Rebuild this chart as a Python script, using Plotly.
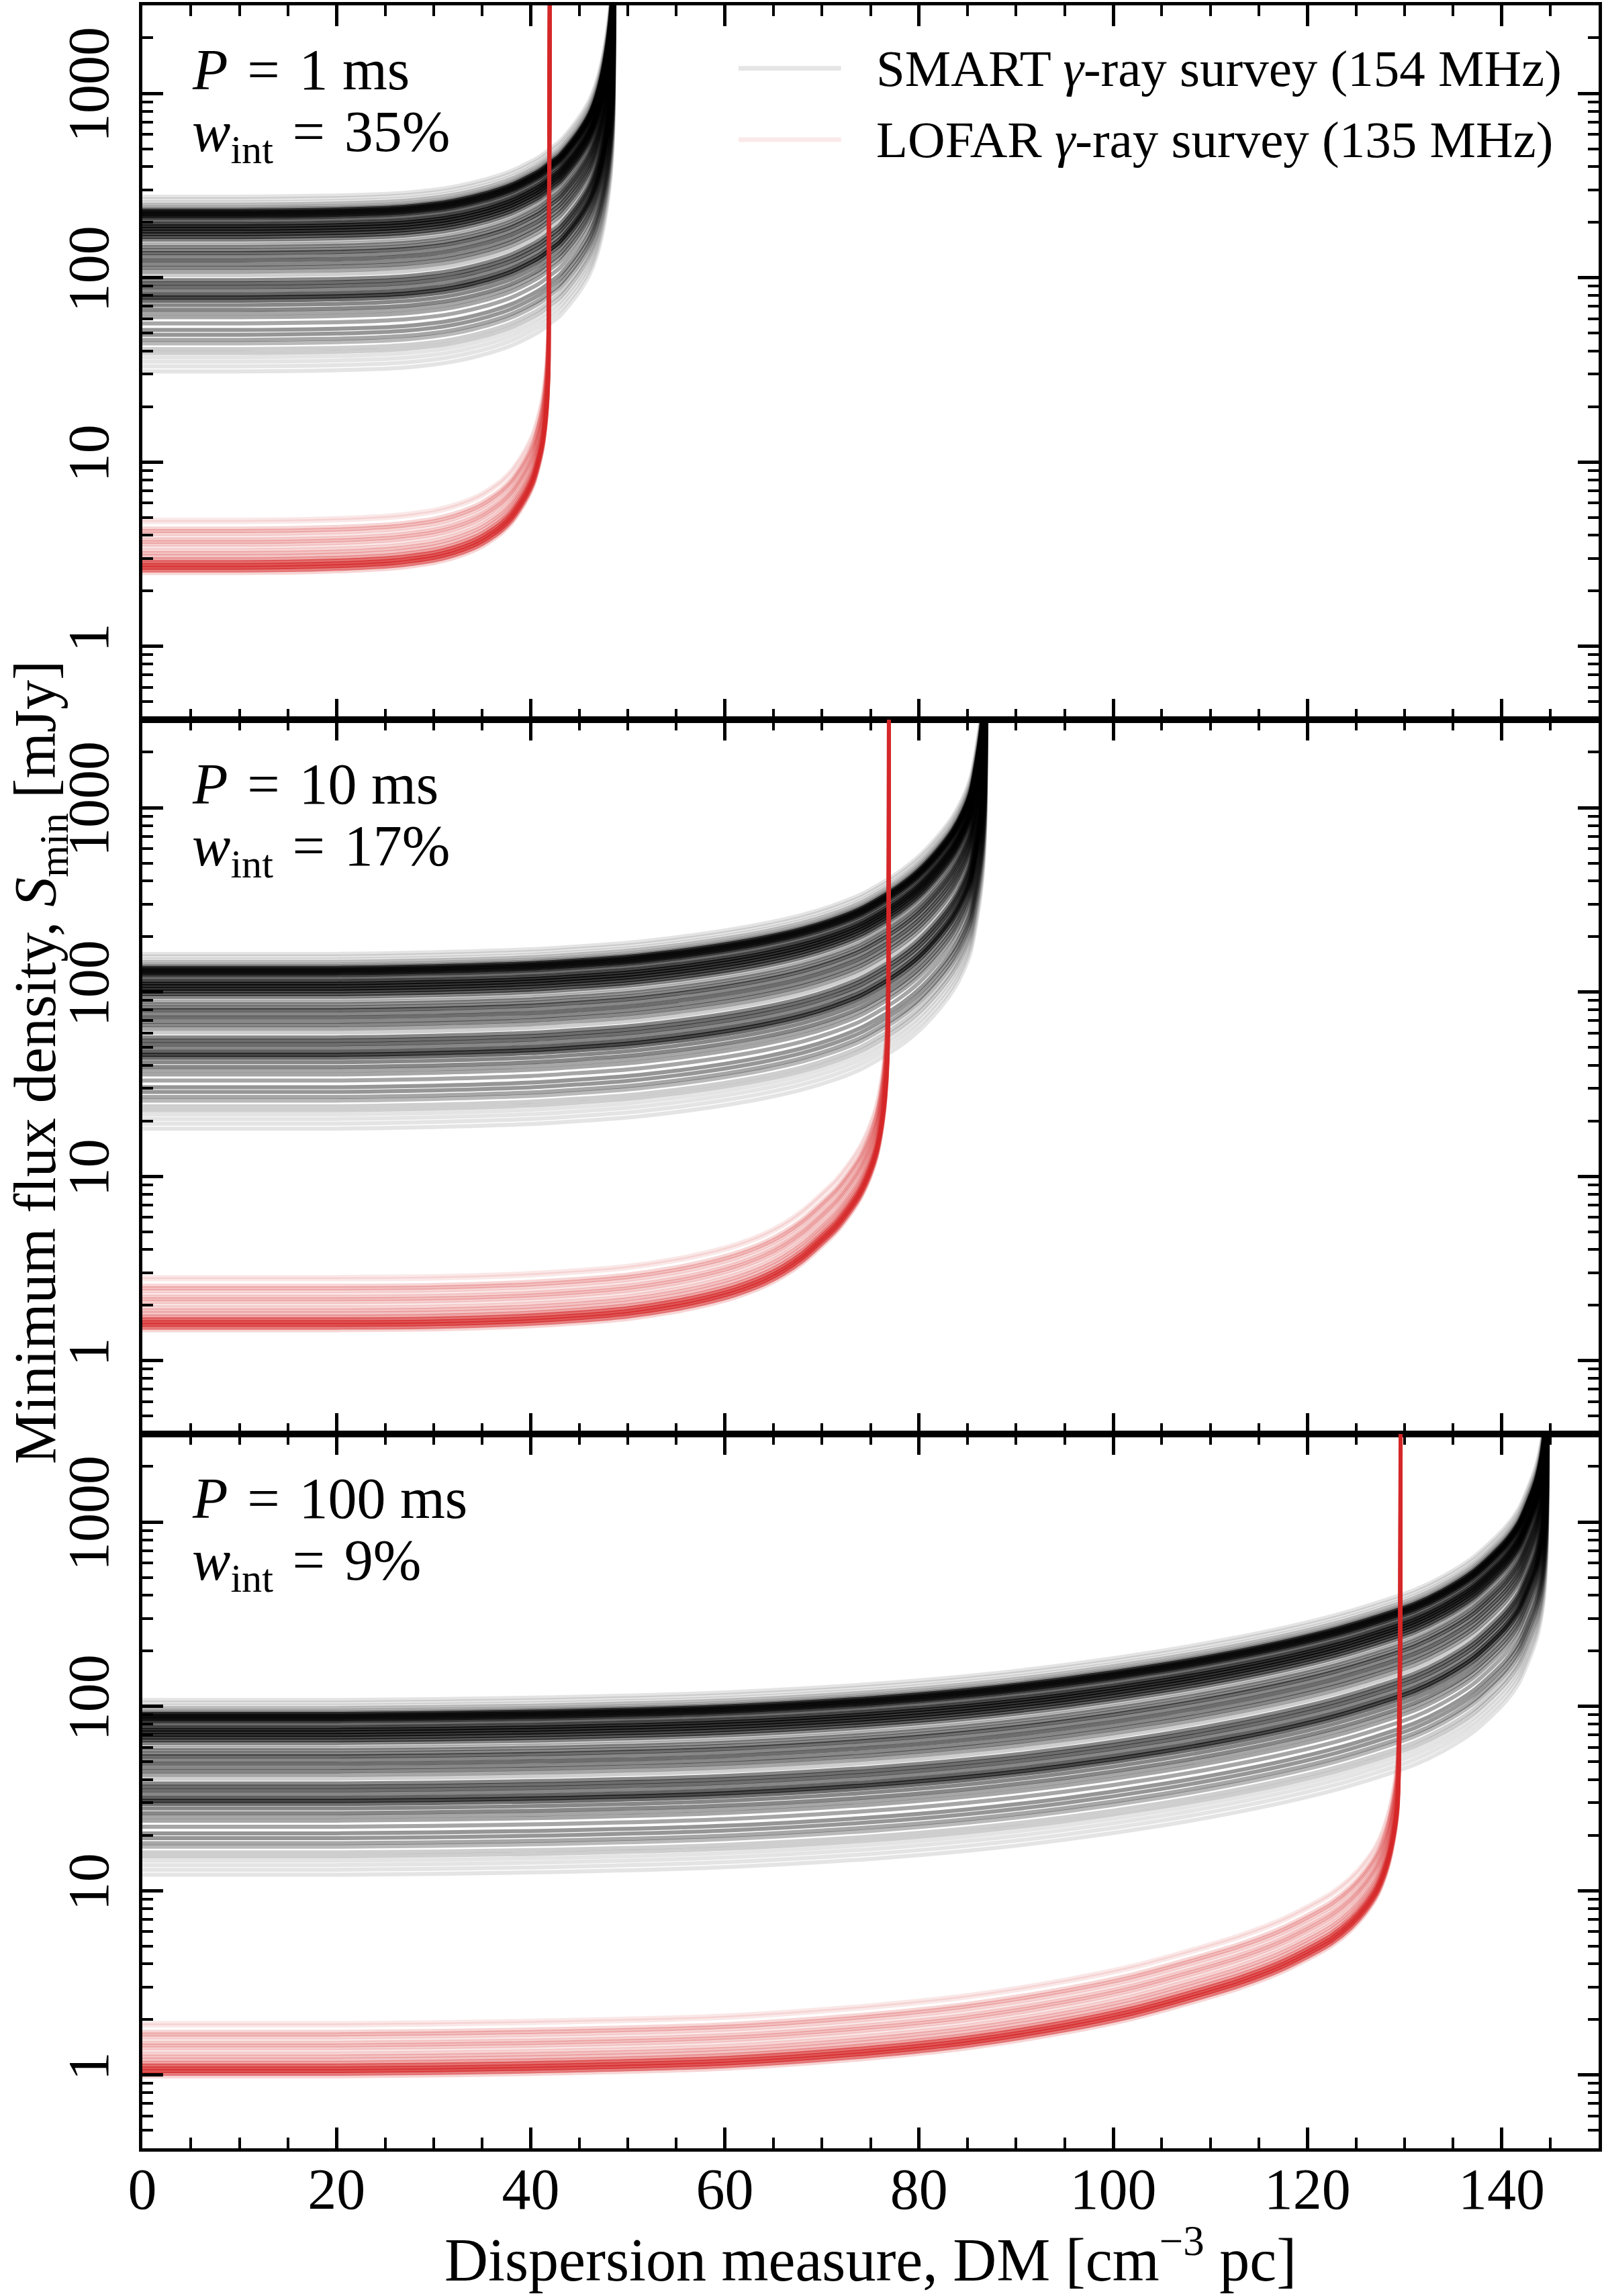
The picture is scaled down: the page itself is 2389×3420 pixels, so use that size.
import numpy as np
import plotly.graph_objects as go
from plotly.subplots import make_subplots

# ---------------- data ----------------
period_ms = ["1", "10", "100"]
wint_pct = ["35", "17", "9"]

# Flat (DM = 0) minimum flux density levels of individual sources in the
# P = 1 ms panel [mJy], with the number of sources sharing each level.
smart_levels = [275, 266, 256, 249, 242, 236, 231, 226, 221, 216, 211, 206, 201,
                196, 190, 184, 178, 172, 166, 161, 156, 151, 147, 141, 136, 130, 124,
                118, 113, 108, 103, 97, 93, 89, 85, 81, 78, 75, 71, 67, 64, 61,
                56.5, 52, 49, 46, 44, 41, 39, 37, 35, 33, 31]
smart_counts = [1, 1, 1, 2, 2, 4, 13, 14, 14, 13, 9, 4, 4, 9, 14, 14, 14, 12, 9,
                5, 2, 2, 5, 6, 8, 6, 8, 6, 6, 4, 2, 6, 8, 8, 6, 9, 12, 8, 6, 6, 4, 4,
                4, 5, 5, 4, 3, 2, 2, 1, 1, 1, 1]

lofar_levels = [4.86, 4.72, 4.36, 4.22, 4.08, 3.92, 3.80, 3.68, 3.56, 3.45, 3.32,
                3.20, 3.08, 2.96, 2.86, 2.76, 2.67, 2.58, 2.50]
lofar_counts = [1, 1, 2, 3, 2, 1, 2, 3, 2, 1, 2, 3, 3, 5, 10, 14, 14, 8, 2]

# Flat level of each panel relative to the P = 1 ms panel
panel_scale = [1.0, 0.585, 0.393]

# Rise of S_min with DM (relative to the flat level), read per panel
smart_dm_1 = [0, 10, 15, 20, 24, 27, 30, 32, 34, 36, 38, 40, 41, 42, 43, 44, 45, 46,
              46.5, 47, 47.5, 48, 48.3, 48.5, 48.7]
smart_rise_1 = [1.0, 1.0, 1.005, 1.015, 1.03, 1.05, 1.09, 1.13, 1.19, 1.27, 1.38, 1.55,
                1.66, 1.82, 2.0, 2.3, 2.7, 3.3, 3.8, 4.6, 6.0, 8.8, 12.5, 20, 1000]
lofar_dm_1 = [0, 10, 15, 20, 23, 26, 28, 30, 32, 34, 35, 36, 37, 38, 39, 39.7, 40.3,
              40.8, 41.2, 41.5, 41.7, 41.85, 42.0]
lofar_rise_1 = [1.0, 1.0, 1.005, 1.02, 1.035, 1.06, 1.09, 1.13, 1.2, 1.31, 1.39, 1.5,
                1.64, 1.85, 2.2, 2.55, 3.0, 3.7, 4.6, 6.0, 8.0, 13, 3000]

smart_dm_2 = [0, 20, 30, 40, 45, 50, 55, 60, 64, 68, 71, 74, 76, 78, 80, 82, 83.5,
              84.5, 85.3, 86, 86.5, 86.8, 87]
smart_rise_2 = [1.0, 1.0, 1.02, 1.06, 1.1, 1.15, 1.23, 1.34, 1.46, 1.63, 1.82, 2.1,
                2.4, 2.8, 3.4, 4.4, 5.6, 7.0, 9.0, 14, 22, 40, 1000]
lofar_dm_2 = [0, 20, 30, 40, 45, 50, 55, 58, 61, 64, 66, 68, 70, 71.5, 73, 74, 75,
              75.6, 76.1, 76.5, 76.75, 76.9]
lofar_rise_2 = [1.0, 1.0, 1.01, 1.05, 1.09, 1.15, 1.26, 1.36, 1.5, 1.72, 1.95, 2.3,
                2.85, 3.4, 4.3, 5.2, 6.8, 8.5, 11.5, 17, 28, 3000]

smart_dm_3 = [0, 20, 40, 60, 75, 85, 95, 105, 112, 118, 123, 127, 131, 134, 137, 139,
              140.5, 141.8, 142.8, 143.6, 144.2, 144.6, 144.8]
smart_rise_3 = [1.0, 1.0, 1.03, 1.1, 1.22, 1.35, 1.55, 1.85, 2.15, 2.5, 2.9, 3.35,
                3.95, 4.7, 5.9, 7.3, 8.8, 11, 14.5, 19, 27, 48, 1000]
lofar_dm_3 = [0, 20, 40, 60, 75, 85, 95, 102, 108, 113, 117, 120, 122.5, 124.5, 126,
              127.2, 128.2, 128.9, 129.3, 129.6]
lofar_rise_3 = [1.0, 1.0, 1.03, 1.1, 1.25, 1.42, 1.72, 2.05, 2.5, 3.0, 3.6, 4.3, 5.1,
                6.2, 7.6, 9.5, 13, 19, 28, 3000]

x_ticks = [0, 20, 40, 60, 80, 100, 120, 140]
y_ticks = [1, 10, 100, 1000]
y_ticktext = ["1", "10", "100", "1000"]

smart_dm = [smart_dm_1, smart_dm_2, smart_dm_3]
smart_rise = [smart_rise_1, smart_rise_2, smart_rise_3]
lofar_dm = [lofar_dm_1, lofar_dm_2, lofar_dm_3]
lofar_rise = [lofar_rise_1, lofar_rise_2, lofar_rise_3]

# ---------------- style ----------------
FONT = "Liberation Serif"
BLACK = "#000000"
RED = "#d62728"
ALPHA = 0.1
LW = 6

fig = make_subplots(rows=3, cols=1, shared_xaxes=True, vertical_spacing=0)

for p in range(3):
    for lev, n in zip(smart_levels, smart_counts):
        y = [lev * panel_scale[p] * r for r in smart_rise[p]]
        fig.add_trace(go.Scatter(x=smart_dm[p], y=y, mode="lines",
                                 line=dict(color=BLACK, width=LW, shape="spline", smoothing=0.8),
                                 opacity=1 - (1 - ALPHA) ** n,
                                 showlegend=False, hoverinfo="skip"),
                      row=p + 1, col=1)
    for lev, n in zip(lofar_levels, lofar_counts):
        y = [lev * panel_scale[p] * r for r in lofar_rise[p]]
        fig.add_trace(go.Scatter(x=lofar_dm[p], y=y, mode="lines",
                                 line=dict(color=RED, width=LW, shape="spline", smoothing=0.8),
                                 opacity=1 - (1 - ALPHA) ** n,
                                 showlegend=False, hoverinfo="skip"),
                      row=p + 1, col=1)

minor_y = []
for dec in [0.1, 1, 10, 100, 1000]:
    for d in range(2, 10):
        v = d * dec
        if 0.4 <= v <= 3000:
            minor_y.append(v)

tickfont = dict(family=FONT, size=86, color="black")
for r in range(1, 4):
    fig.update_xaxes(row=r, col=1, range=[0, 150], tickmode="array", tickvals=x_ticks,
                     ticks="inside", ticklen=31, tickwidth=5, tickcolor="black",
                     showline=True, linewidth=5, linecolor="black", mirror="allticks",
                     showgrid=False, zeroline=False,
                     minor=dict(ticks="inside", ticklen=16, tickwidth=4, tickcolor="black",
                                dtick=5, tick0=0, showgrid=False),
                     showticklabels=(r == 3), tickfont=tickfont, ticklabelstandoff=-18)
    fig.update_yaxes(row=r, col=1, type="log", range=[np.log10(0.4), np.log10(3000)],
                     tickmode="array", tickvals=y_ticks, ticktext=y_ticktext, tickangle=-90,
                     ticks="inside", ticklen=31, tickwidth=5, tickcolor="black",
                     showline=True, linewidth=5, linecolor="black", mirror="allticks",
                     showgrid=False, zeroline=False,
                     minor=dict(ticks="inside", ticklen=16, tickwidth=4, tickcolor="black",
                                tickmode="array", tickvals=minor_y, showgrid=False),
                     tickfont=tickfont, ticklabelstandoff=12)

SP = "\u2004"
annotations = []
for p in range(3):
    xd = "x domain" if p == 0 else f"x{p + 1} domain"
    yd = "y domain" if p == 0 else f"y{p + 1} domain"
    annotations.append(dict(xref=xd, yref=yd, x=0.033, y=0.910, xanchor="left", yanchor="middle",
                            text=f"<i>P</i>{SP}={SP}{period_ms[p]} ms", showarrow=False,
                            font=dict(family=FONT, size=86, color="black")))
    annotations.append(dict(xref=xd, yref=yd, x=0.033, y=0.818, xanchor="left", yanchor="middle",
                            text=f"<i>w</i><sub>int</sub>{SP}={SP}{wint_pct[p]}%", showarrow=False,
                            font=dict(family=FONT, size=86, color="black")))

# legend (panel 1, top right)
legend_names = ["SMART <i>γ</i>-ray survey (154 MHz)", "LOFAR <i>γ</i>-ray survey (135 MHz)"]
legend_colors = ["rgba(0,0,0,0.1)", "rgba(214,39,40,0.1)"]
legend_y = [0.912, 0.812]
shapes = []
for name, col, yy in zip(legend_names, legend_colors, legend_y):
    shapes.append(dict(type="line", xref="x domain", yref="y domain", x0=0.4094, x1=0.4798,
                       y0=yy, y1=yy, line=dict(color=col, width=7)))
    annotations.append(dict(xref="x domain", yref="y domain", x=0.503, y=yy, xanchor="left",
                            yanchor="middle", text=name, showarrow=False,
                            font=dict(family=FONT, size=77, color="black")))

# axis titles
annotations.append(dict(xref="paper", yref="paper", x=0.5, y=-0.0683, xanchor="center",
                        yanchor="bottom", showarrow=False,
                        text="Dispersion measure, DM [cm<sup>−3</sup> pc]",
                        font=dict(family=FONT, size=90, color="black")))
annotations.append(dict(xref="paper", yref="paper", x=-0.0705, y=0.5066, xanchor="center",
                        yanchor="middle", showarrow=False, textangle=-90,
                        text="Minimum flux density, <i>S</i><sub>min</sub> [mJy]",
                        font=dict(family=FONT, size=88, color="black")))

fig.update_layout(width=2389, height=3420, margin=dict(l=212, r=3, t=6, b=220),
                  paper_bgcolor="white", plot_bgcolor="white",
                  annotations=annotations, shapes=shapes, showlegend=False)

fig.write_html("out.html")
